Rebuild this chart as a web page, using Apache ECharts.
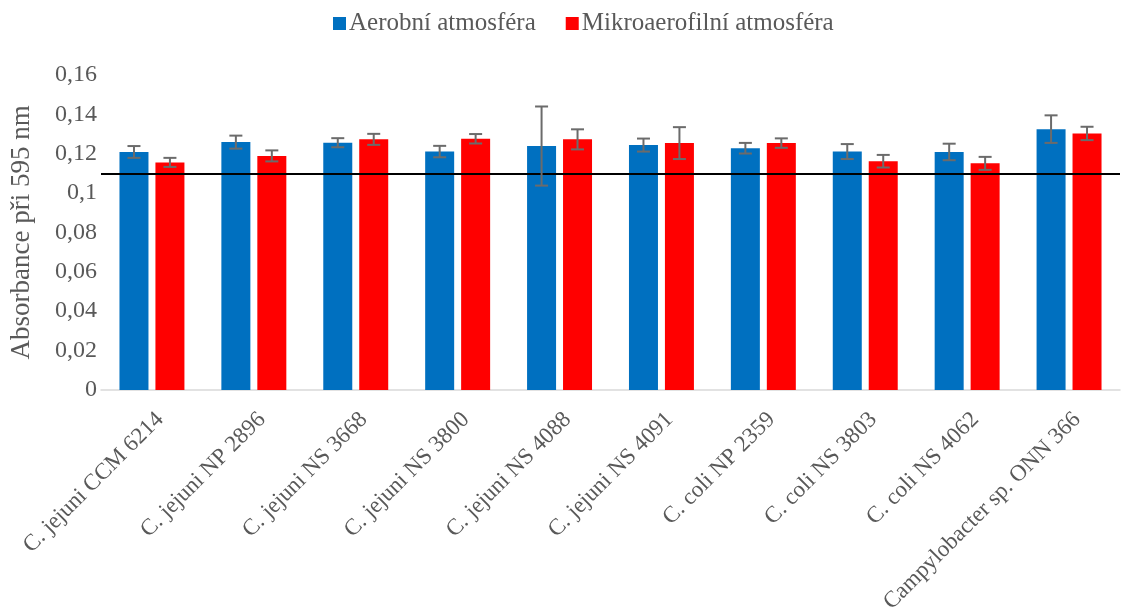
<!DOCTYPE html>
<html>
<head>
<meta charset="utf-8">
<script src="https://cdn.jsdelivr.net/npm/echarts@6/dist/echarts.min.js"></script>
<style>
  html, body { margin: 0; padding: 0; background: #ffffff; }
  #chart { width: 1131px; height: 616px; }
</style>
</head>
<body>
<div id="chart"></div>
<script>
// Bacterial strains on the category axis
const categories = [
  'C. jejuni CCM 6214', 'C. jejuni NP 2896', 'C. jejuni NS 3668', 'C. jejuni NS 3800',
  'C. jejuni NS 4088', 'C. jejuni NS 4091', 'C. coli NP 2359', 'C. coli NS 3803',
  'C. coli NS 4062', 'Campylobacter sp. ONN 366'
];
const seriesNames = ['Aerobní atmosféra', 'Mikroaerofilní atmosféra'];

// Mean absorbance and its standard deviation per strain
const aerobic = [0.1209, 0.1259, 0.1256, 0.1211, 0.1239, 0.1244, 0.1228, 0.1211, 0.1209, 0.1325];
const aerobicErr = [0.0030, 0.0033, 0.0023, 0.0029, 0.0201, 0.0033, 0.0027, 0.0038, 0.0042, 0.0070];
const microaerobic = [0.1156, 0.1189, 0.1273, 0.1276, 0.1273, 0.1254, 0.1254, 0.1162, 0.1151, 0.1303];
const microaerobicErr = [0.0023, 0.0028, 0.0028, 0.0024, 0.0051, 0.0081, 0.0024, 0.0032, 0.0033, 0.0034];

// Threshold of the negative control
const threshold = 0.1114;

// Y axis ticks
const yTicks = [0, 0.02, 0.04, 0.06, 0.08, 0.1, 0.12, 0.14, 0.16];
const yTickLabels = ['0', '0,02', '0,04', '0,06', '0,08', '0,1', '0,12', '0,14', '0,16'];

const FONT = '"Liberation Serif", "Times New Roman", serif';
const TEXT = '#595959';
const BAR_W = 29;
const GAP_RATIO = 0.24;
const CAP_W = 13;

function errorSeries(values, errs, side) {
  const offset = side * (BAR_W + BAR_W * GAP_RATIO) / 2;
  return {
    type: 'custom',
    z: 5,
    silent: true,
    data: values.map((v, i) => [i, v - errs[i], v + errs[i]]),
    renderItem: function (params, api) {
      const i = api.value(0);
      const lo = api.coord([i, api.value(1)]);
      const hi = api.coord([i, api.value(2)]);
      const x = lo[0] + offset;
      const style = { stroke: '#6b6b6b', lineWidth: 2, fill: null };
      return {
        type: 'group',
        children: [
          { type: 'line', shape: { x1: x, y1: lo[1], x2: x, y2: hi[1] }, style: style },
          { type: 'line', shape: { x1: x - CAP_W / 2, y1: lo[1], x2: x + CAP_W / 2, y2: lo[1] }, style: style },
          { type: 'line', shape: { x1: x - CAP_W / 2, y1: hi[1], x2: x + CAP_W / 2, y2: hi[1] }, style: style }
        ]
      };
    }
  };
}

const chart = echarts.init(document.getElementById('chart'), null, { renderer: 'canvas' });
chart.setOption({
  backgroundColor: '#ffffff',
  animation: false,
  textStyle: { fontFamily: FONT, color: TEXT },
  legend: {
    data: seriesNames,
    top: 6,
    left: 328,
    icon: 'rect',
    itemWidth: 13,
    itemHeight: 13,
    itemGap: 30,
    textStyle: { fontFamily: FONT, fontSize: 25, color: TEXT, padding: [0, 0, 0, -2] }
  },
  grid: { left: 98, right: 11, top: 75, bottom: 223 },
  xAxis: {
    type: 'category',
    data: categories,
    axisLine: { show: true, lineStyle: { color: '#d9d9d9', width: 1.5 } },
    axisTick: { show: false },
    axisLabel: {
      rotate: 45,
      interval: 0,
      margin: 18,
      verticalAlign: 'top',
      fontFamily: FONT,
      fontSize: 23,
      color: TEXT
    }
  },
  yAxis: {
    type: 'value',
    min: 0,
    max: 0.16,
    interval: 0.02,
    name: 'Absorbance při 595 nm',
    nameLocation: 'middle',
    nameGap: 66,
    nameTextStyle: { fontFamily: FONT, fontSize: 27, color: TEXT },
    axisLine: { show: false },
    axisTick: { show: false },
    splitLine: { show: false },
    axisLabel: {
      margin: 4,
      fontFamily: FONT,
      fontSize: 24,
      color: TEXT,
      formatter: function (v) {
        const k = yTicks.findIndex(t => Math.abs(t - v) < 1e-9);
        return k >= 0 ? yTickLabels[k] : String(v).replace('.', ',');
      }
    }
  },
  series: [
    {
      name: seriesNames[0],
      type: 'bar',
      barWidth: BAR_W,
      barGap: (GAP_RATIO * 100) + '%',
      itemStyle: { color: '#0070C0' },
      data: aerobic,
      markLine: {
        silent: true,
        symbol: 'none',
        label: { show: false },
        lineStyle: { color: '#000000', width: 2, type: 'solid' },
        data: [{ yAxis: threshold }]
      }
    },
    {
      name: seriesNames[1],
      type: 'bar',
      barWidth: BAR_W,
      barGap: (GAP_RATIO * 100) + '%',
      itemStyle: { color: '#FF0000' },
      data: microaerobic
    },
    errorSeries(aerobic, aerobicErr, -1),
    errorSeries(microaerobic, microaerobicErr, 1)
  ]
});
</script>
</body>
</html>
